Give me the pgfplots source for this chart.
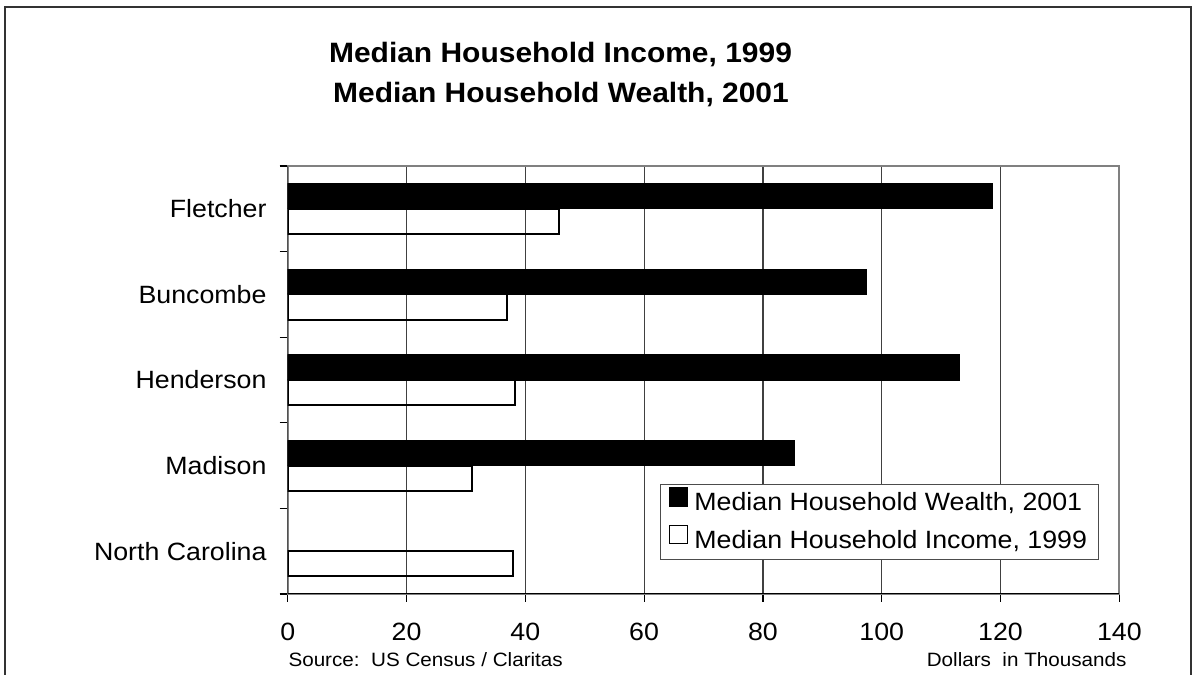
\documentclass[border=0pt]{standalone}
\usepackage{pgfplots}
\pgfplotsset{compat=1.18}
\usepackage{fontspec}
\setmainfont{Liberation Sans}[FakeStretch=1.07]

\pgfplotstableread{
y   v
4   118.6
3   97.4
2   113.0
1   85.2
}\wealth
\pgfplotstableread{
y   v
4   45.6
3   36.9
2   38.3
1   31.1
0   37.9
}\income

\begin{document}
\begin{tikzpicture}[x=1bp,y=1bp]
\useasboundingbox (0,0) rectangle (1193,675);
\draw[black!80, line width=2bp] (5,0) -- (5,668) -- (1190.5,668) -- (1190.5,0);
\node[font=\fontsize{28bp}{34bp}\selectfont\bfseries, anchor=base, inner sep=0pt] at (560.5,612) {Median Household Income, 1999};
\node[font=\fontsize{28bp}{34bp}\selectfont\bfseries, anchor=base, inner sep=0pt] at (561,572) {Median Household Wealth, 2001};
\node[font=\fontsize{19.3bp}{23bp}\selectfont, anchor=base west, inner sep=0pt] at (288.3,8.3) {Source:\ \ US Census / Claritas};
\node[font=\fontsize{19.3bp}{23bp}\selectfont, anchor=base east, inner sep=0pt] at (1126.7,8.3) {Dollars\ \ in Thousands};
\begin{axis}[
  at={(287.7bp,81bp)}, anchor=south west,
  scale only axis, width=831.6bp, height=428bp,
  xmin=0, xmax=140, ymin=-0.5, ymax=4.5,
  xtick={0,20,...,140},
  ytick={0,1,2,3,4},
  yticklabels={North Carolina,Madison,Henderson,Buncombe,Fletcher},
  minor ytick={-0.5,0.5,...,4.5},
  tick pos=left, tick align=outside,
  major tick length=8bp, minor tick length=8bp,
  every tick/.append style={black, line width=1.2bp},
  every major y tick/.append style={draw=none},
  xmajorgrids, grid style={black!75, line width=1.2bp},
  axis line style={black!50, line width=2bp},
  xbar, bar width=0.295,
  ticklabel style={font=\fontsize{25bp}{30bp}\selectfont},
  /pgf/number format/assume math mode=true,
  xticklabel style={inner sep=0bp, yshift=-21bp},
  yticklabel style={inner sep=0bp, xshift=-13bp},
  legend style={at={(0.975,0.0794)}, anchor=south east, draw=black!70, line width=1bp, fill=white,
    inner xsep=9bp, inner ysep=3bp, row sep=6bp,
    font=\fontsize{25bp}{30bp}\selectfont,
    nodes={inner sep=2bp, text height=18bp, text depth=6bp}},
  legend cell align=left,
  legend image code/.code={\draw[#1, line width=1.3bp] (0bp,-1bp) rectangle (18bp,17bp);},
]
\addplot[fill=black, draw=black, line width=0.5bp, bar shift=0.148] table[x=v, y=y] {\wealth};
\addlegendentry{\hspace{4bp}Median Household Wealth, 2001}
\addplot[fill=none, draw=black, line width=2bp, bar shift=-0.148] table[x=v, y=y] {\income};
\addlegendentry{\hspace{4bp}Median Household Income, 1999}
\draw[black, line width=1.5bp] (rel axis cs:0,1) -- (rel axis cs:0,0) -- (rel axis cs:1,0);
\end{axis}
\end{tikzpicture}
\end{document}
